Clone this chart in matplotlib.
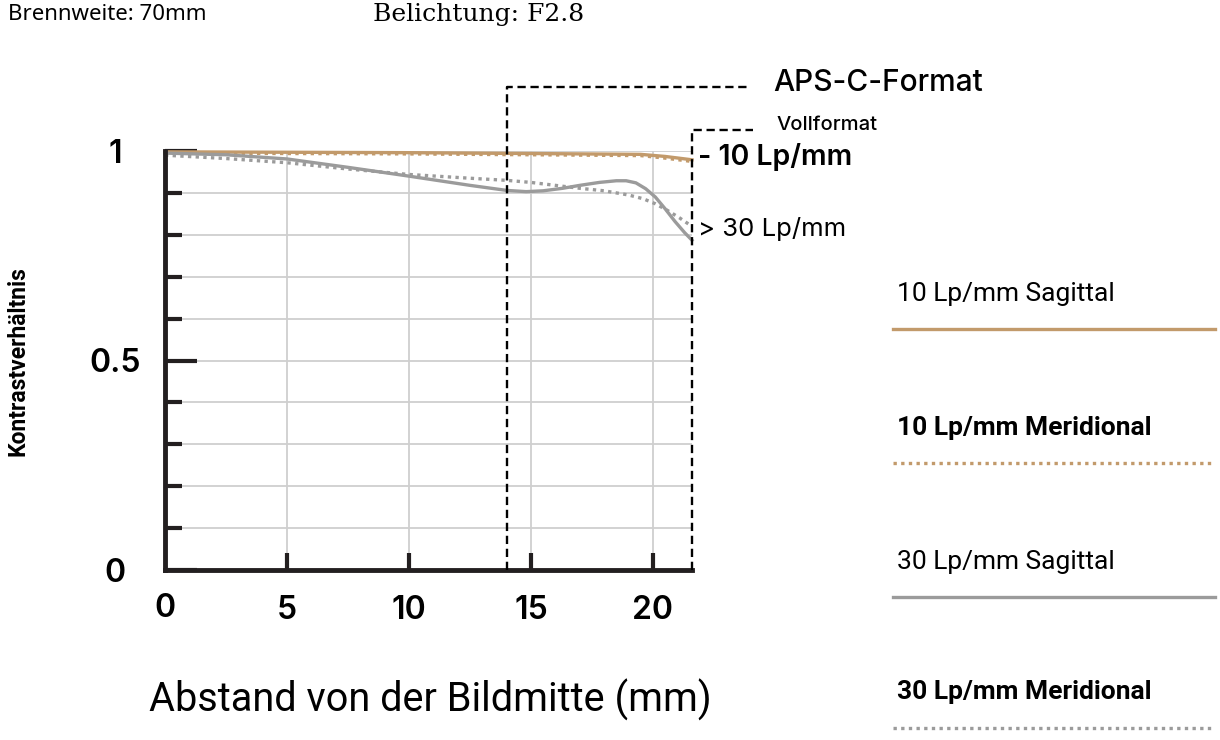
import matplotlib.pyplot as plt
from matplotlib.lines import Line2D

# MTF data (x = Abstand von der Bildmitte in mm)
x_s10 = [0, 5, 10, 15, 19.5, 20.5, 21.6]
s10 = [0.998, 0.997, 0.996, 0.994, 0.992, 0.987, 0.979]

x_m10 = [0, 5, 10, 15, 19.5, 20.5, 21.6]
m10 = [0.995, 0.994, 0.993, 0.991, 0.989, 0.983, 0.975]

x_s30 = [0, 2.5, 5, 7.5, 10, 12.5, 14, 14.8, 15.5, 16.3, 17, 17.8, 18.5, 18.9, 19.3,
         19.7, 20.1, 20.5, 20.9, 21.3, 21.6]
s30 = [0.995, 0.991, 0.981, 0.961, 0.94, 0.918, 0.906, 0.903, 0.905, 0.911, 0.918, 0.925,
       0.929, 0.929, 0.924, 0.91, 0.89, 0.862, 0.832, 0.805, 0.787]

x_m30 = [0, 2.5, 5, 7.5, 10, 12.5, 14, 15, 16, 17, 18, 19, 19.6, 20.1, 20.6, 21.1, 21.6]
m30 = [0.99, 0.982, 0.972, 0.957, 0.944, 0.935, 0.93, 0.925, 0.918, 0.911, 0.905, 0.895,
       0.886, 0.874, 0.858, 0.84, 0.82]

# sensor format limits (mm)
formats = ["APS-C-Format", "Vollformat"]
format_limits = [14, 21.6]

legend_labels = ["10 Lp/mm Sagittal", "10 Lp/mm Meridional",
                 "30 Lp/mm Sagittal", "30 Lp/mm Meridional"]

ORANGE = "#c29a6b"
GRAY = "#9b9b9b"
DARK = "#231f20"
W, H = 1220, 740


def px(x, y):
    return x / W, 1 - y / H


fig = plt.figure(figsize=(12.2, 7.4), dpi=100)
fig.patch.set_facecolor("white")
ax = fig.add_axes([165 / W, 1 - 570 / H, (692 - 165) / W, (570 - 151) / H])

series = [(x_s10, s10, ORANGE, "-"), (x_m10, m10, ORANGE, (0, (1, 1.3))),
          (x_s30, s30, GRAY, "-"), (x_m30, m30, GRAY, (0, (1, 1.3)))]
for xs, ys, c, ls in series:
    ax.plot(xs, ys, color=c, ls=ls, lw=2.4, clip_on=False, zorder=3,
            solid_joinstyle="round")

ax.set_xlim(0, 21.6)
ax.set_ylim(0, 1)
ax.set_xticks([5, 10, 15, 20])
ax.set_xticklabels(["5", "10", "15", "20"])
ax.set_yticks([0, 0.5, 1])
ax.set_yticklabels(["0", "0.5", "1"])
ax.set_yticks([0.1, 0.2, 0.3, 0.4, 0.6, 0.7, 0.8, 0.9], minor=True)
ax.grid(axis="y", which="both", color="#cfcfcf", lw=1.3, zorder=0)
ax.grid(axis="x", which="major", color="#cfcfcf", lw=1.3, zorder=0)

for s in ["top", "right"]:
    ax.spines[s].set_visible(False)
for s in ["left", "bottom"]:
    ax.spines[s].set_linewidth(3.5)
    ax.spines[s].set_color(DARK)
    ax.spines[s].set_zorder(4)

ax.tick_params(axis="y", which="major", direction="in", length=23, width=3, color=DARK,
               pad=36, labelsize=23)
ax.tick_params(axis="y", which="minor", direction="in", length=12, width=3, color=DARK)
ax.tick_params(axis="x", which="major", direction="in", length=12, width=3, color=DARK,
               pad=18, labelsize=23)
for lab in ax.get_yticklabels():
    lab.set_horizontalalignment("center")
    lab.set_family("Inter")
    lab.set_weight("semibold")
for lab in ax.get_xticklabels():
    lab.set_family("Inter")
    lab.set_weight("semibold")
ax.text(0, -0.093, "0", transform=ax.transAxes, ha="center", va="center",
        fontsize=23, family="Inter", weight="semibold")

# format boundaries
tops = [1.152, 1.05]
ends = [24.0, 24.1]
for lim, top, end in zip(format_limits, tops, ends):
    ax.plot([lim, lim, end], [0, top, top], color="black", ls=(0, (3.5, 2)), lw=1.7,
            clip_on=False, zorder=5)
ax.text(24.95, 1.163, formats[0], ha="left", va="center", fontsize=21.5, family="Inter",
        weight="medium")
ax.text(25.05, 1.063, formats[1], ha="left", va="center", fontsize=14.5, family="Inter",
        weight="medium")
ax.text(21.85, 0.986, "- 10 Lp/mm", ha="left", va="center", fontsize=20.5, family="Inter",
        weight="semibold")
ax.text(21.85, 0.813, "> 30 Lp/mm", ha="left", va="center", fontsize=18.5, family="Inter")

# header and axis titles
fig.text(*px(8, 15), "Brennweite: 70mm", ha="left", va="center", fontsize=16,
         family="Noto Sans")
fig.text(*px(373, 15), "Belichtung: F2.8", ha="left", va="center", fontsize=18,
         family="DejaVu Serif")
fig.text(*px(430, 700), "Abstand von der Bildmitte (mm)", ha="center", va="center",
         fontsize=28.5, family="Roboto")
fig.text(*px(18, 361), "Kontrastverhältnis", ha="center", va="center", rotation=90,
         fontsize=16.5, family="Roboto", weight="bold")

# legend on the right
text_y = [294, 428, 562, 692]
line_y = [329, 463, 597, 728]
weights = ["normal", "bold", "normal", "bold"]
for (xs, ys, c, ls), lab, ty, ly, wt in zip(series, legend_labels, text_y, line_y, weights):
    fig.text(*px(897, ty), lab, ha="left", va="center", fontsize=19, family="Roboto",
             weight=wt)
    x0, y0 = px(893, ly)
    x1, _ = px(1215, ly)
    fig.add_artist(Line2D([x0, x1], [y0, y0], color=c, ls=ls, lw=2.4))

fig.savefig("out.png", dpi=100, facecolor="white")
